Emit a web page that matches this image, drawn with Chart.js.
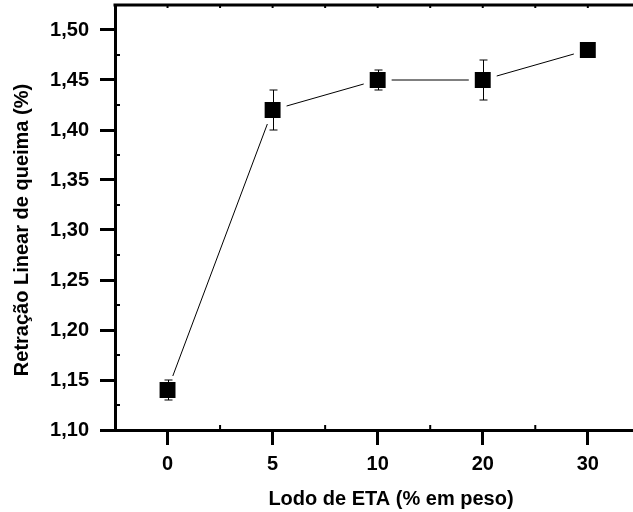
<!DOCTYPE html>
<html>
<head>
<meta charset="utf-8">
<script src="https://cdn.jsdelivr.net/npm/chart.js@4/dist/chart.umd.min.js"></script>
<style>
  html, body { margin: 0; padding: 0; background: #fff; overflow: hidden; }
  #wrap { width: 633px; height: 512px; }
</style>
</head>
<body>
<div id="wrap"><canvas id="c" width="633" height="512"></canvas></div>
<script>
// data
const categories = ['0', '5', '10', '20', '30'];
const retracao = [1.14, 1.42, 1.45, 1.45, 1.48];
const erro = [0.01, 0.02, 0.01, 0.02, 0.0];
const yTicks = [1.10, 1.15, 1.20, 1.25, 1.30, 1.35, 1.40, 1.45, 1.50];

const xTitle = 'Lodo de ETA (% em peso)';
const yTitle = 'Retração Linear de queima (%)';
const FONT = '"Liberation Sans", Arial, sans-serif';

const points = retracao.map((v, k) => ({ x: k, y: v }));

// error bars, frame top line, minor ticks and axis titles
const extras = {
  id: 'extras',
  afterDatasetsDraw(chart) {
    const ctx = chart.ctx;
    const xs = chart.scales.x, ys = chart.scales.y;
    ctx.save();
    ctx.strokeStyle = '#000';
    ctx.lineWidth = 1;
    points.forEach((p, k) => {
      if (!erro[k]) return;
      const px = Math.round(xs.getPixelForValue(p.x)) + 0.5;
      const top = ys.getPixelForValue(p.y + erro[k]);
      const bot = ys.getPixelForValue(p.y - erro[k]);
      ctx.beginPath();
      ctx.moveTo(px, top); ctx.lineTo(px, bot);
      ctx.moveTo(px - 4, top); ctx.lineTo(px + 4, top);
      ctx.moveTo(px - 4, bot); ctx.lineTo(px + 4, bot);
      ctx.stroke();
    });
    ctx.restore();
  },
  afterDraw(chart) {
    const ctx = chart.ctx;
    const a = chart.chartArea;
    const xs = chart.scales.x, ys = chart.scales.y;
    ctx.save();
    ctx.strokeStyle = '#000';
    // top frame
    ctx.lineWidth = 3;
    ctx.beginPath();
    ctx.moveTo(a.left - 1.5, a.top);
    ctx.lineTo(a.right + 2, a.top);
    ctx.stroke();
    // minor ticks
    ctx.lineWidth = 2;
    ctx.beginPath();
    for (let v = 1.125; v < 1.52; v += 0.05) {
      const py = ys.getPixelForValue(v);
      ctx.moveTo(a.left, py); ctx.lineTo(a.left + 5, py);
    }
    for (let v = 0; v <= 4.5; v += 0.5) {
      const px = xs.getPixelForValue(v);
      if (v % 1 !== 0) { ctx.moveTo(px, a.bottom); ctx.lineTo(px, a.bottom - 5); }
      ctx.moveTo(px, a.top); ctx.lineTo(px, a.top + 3);
    }
    ctx.stroke();
    // axis titles
    ctx.fillStyle = '#000';
    ctx.font = 'bold 20px ' + FONT;
    ctx.textAlign = 'center';
    ctx.textBaseline = 'middle';
    ctx.fillText(xTitle, 391, 499);
    ctx.translate(22, 230);
    ctx.rotate(-Math.PI / 2);
    ctx.fillText(yTitle, 0, 0);
    ctx.restore();
  }
};

new Chart(document.getElementById('c'), {
  type: 'line',
  data: {
    datasets: [{
      data: points,
      borderColor: '#000',
      borderWidth: 1,
      pointStyle: 'rect',
      pointRadius: 15.5,
      pointBackgroundColor: '#000',
      pointBorderColor: '#fff',
      pointBorderWidth: 6,
      clip: false
    }]
  },
  options: {
    responsive: false,
    animation: false,
    events: [],
    layout: { autoPadding: false, padding: { top: 5, right: 0, left: 0, bottom: 0 } },
    plugins: { legend: { display: false }, tooltip: { enabled: false } },
    scales: {
      x: {
        type: 'linear',
        min: -0.5,
        max: 4.43,
        afterFit: s => { s.height = 82; s.paddingLeft = 0; s.paddingRight = 0; },
        afterBuildTicks: s => { s.ticks = categories.map((c, k) => ({ value: k })); },
        ticks: {
          callback: v => categories[v],
          color: '#000',
          font: { family: FONT, size: 20, weight: 'bold' },
          padding: 7,
          maxRotation: 0
        },
        grid: { drawOnChartArea: false, tickLength: 15, tickWidth: 3, tickColor: '#000' },
        border: { color: '#000', width: 3 }
      },
      y: {
        min: 1.10,
        max: 1.525,
        afterFit: s => { s.width = 115; s.paddingTop = 0; s.paddingBottom = 0; },
        afterBuildTicks: s => { s.ticks = yTicks.map(v => ({ value: v })); },
        ticks: {
          callback: v => v.toFixed(2).replace('.', ','),
          color: '#000',
          font: { family: FONT, size: 20, weight: 'bold' },
          padding: 11
        },
        grid: { drawOnChartArea: false, tickLength: 15, tickWidth: 3, tickColor: '#000' },
        border: { color: '#000', width: 3 }
      }
    }
  },
  plugins: [extras]
});
</script>
</body>
</html>
